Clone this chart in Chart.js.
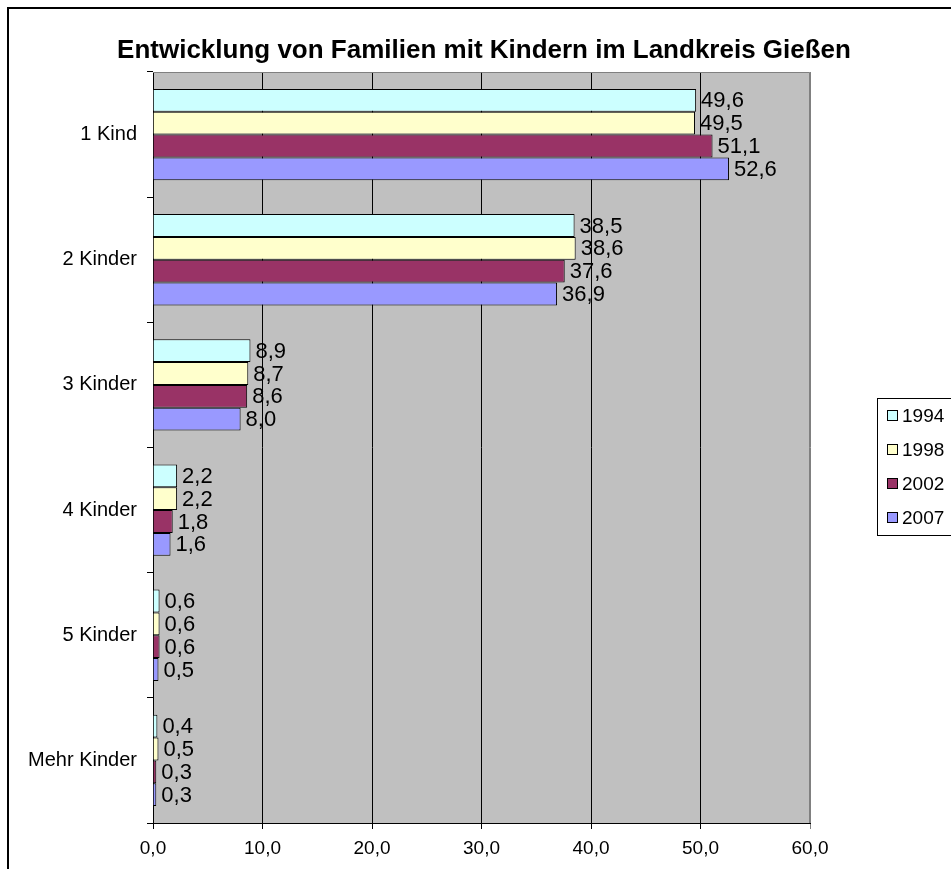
<!DOCTYPE html>
<html>
<head>
<meta charset="utf-8">
<script src="https://cdn.jsdelivr.net/npm/chart.js@4.4.0/dist/chart.umd.min.js"></script>
<style>
  html, body { margin: 0; padding: 0; background: #fff; }
</style>
</head>
<body>
<canvas id="familyChart" width="951" height="869"></canvas>
<script>
// Entwicklung von Familien mit Kindern, Anteile in %
const chartTitle = 'Entwicklung von Familien mit Kindern im Landkreis Gießen';
const categories = ['1 Kind', '2 Kinder', '3 Kinder', '4 Kinder', '5 Kinder', 'Mehr Kinder'];
const years = ['1994', '1998', '2002', '2007'];
const values1994 = [49.6, 38.5, 8.9, 2.2, 0.6, 0.4];
const values1998 = [49.5, 38.6, 8.7, 2.2, 0.6, 0.5];
const values2002 = [51.1, 37.6, 8.6, 1.8, 0.6, 0.3];
const values2007 = [52.6, 36.9, 8.0, 1.6, 0.5, 0.3];
const xTicks = [0, 10, 20, 30, 40, 50, 60];

const colors = ['#CCFFFF', '#FFFFCC', '#993366', '#9999FF'];
const font = "'Liberation Sans', Arial, sans-serif";
const fmt = v => v.toFixed(1).replace('.', ',');

// white page, outer frame, grey plot area and the title (centred on the whole chart, not the plot)
const frame = {
    id: 'frame',
    beforeDraw(chart) {
        const c = chart.ctx, a = chart.chartArea;
        c.save();
        c.fillStyle = '#fff';
        c.fillRect(0, 0, chart.width, chart.height);
        c.strokeStyle = '#000';
        c.lineWidth = 2;
        c.beginPath();
        c.moveTo(8, chart.height);
        c.lineTo(8, 8);
        c.lineTo(chart.width, 8);
        c.stroke();
        c.fillStyle = '#C0C0C0';
        c.fillRect(a.left, a.top, a.right - a.left, a.bottom - a.top);
        c.fillStyle = '#000';
        c.font = 'bold 26px ' + font;
        c.textAlign = 'center';
        c.textBaseline = 'middle';
        c.fillText(chartTitle, 484, 51);
        c.restore();
    },
    afterDraw(chart) {
        const c = chart.ctx, a = chart.chartArea;
        c.save();
        c.strokeStyle = '#808080';
        c.lineWidth = 1;
        c.beginPath();
        c.moveTo(a.left, a.top + 0.5);
        c.lineTo(a.right - 0.5, a.top + 0.5);
        c.lineTo(a.right - 0.5, a.bottom);
        c.stroke();
        c.restore();
    }
};

// value labels right of each bar
const valueLabels = {
    id: 'valueLabels',
    afterDatasetsDraw(chart) {
        const c = chart.ctx;
        c.save();
        c.font = '22px ' + font;
        c.fillStyle = '#000';
        c.textBaseline = 'middle';
        chart.data.datasets.forEach((ds, i) => {
            chart.getDatasetMeta(i).data.forEach((bar, j) => {
                c.fillText(fmt(ds.data[j]), bar.x + 5, bar.y + 1);
            });
        });
        c.restore();
    }
};

// framed legend like the original
const boxLegend = {
    id: 'boxLegend',
    afterDraw(chart) {
        const c = chart.ctx;
        const left = 877, top = 398, rowH = 34;
        c.save();
        c.strokeStyle = '#000';
        c.lineWidth = 1;
        c.strokeRect(left + 0.5, top + 0.5, 120, rowH * years.length + 1);
        c.font = '19px ' + font;
        c.textBaseline = 'middle';
        chart.data.datasets.forEach((ds, i) => {
            const y = top + 18 + i * rowH;
            c.fillStyle = ds.backgroundColor;
            c.fillRect(left + 10.5, y - 5.5, 10, 10);
            c.strokeRect(left + 10.5, y - 5.5, 10, 10);
            c.fillStyle = '#000';
            c.fillText(ds.label, left + 25, y + 1);
        });
        c.restore();
    }
};

const ctx = document.getElementById('familyChart').getContext('2d');
const familyChart = new Chart(ctx, {
    type: 'bar',
    data: {
        labels: categories,
        datasets: [
            { label: years[0], data: values1994, backgroundColor: colors[0] },
            { label: years[1], data: values1998, backgroundColor: colors[1] },
            { label: years[2], data: values2002, backgroundColor: colors[2] },
            { label: years[3], data: values2007, backgroundColor: colors[3] }
        ].map(ds => Object.assign(ds, {
            borderColor: '#000',
            borderWidth: 1,
            categoryPercentage: 0.73,
            barPercentage: 1
        }))
    },
    options: {
        indexAxis: 'y',
        responsive: false,
        animation: false,
        layout: { padding: { left: 0, right: 141, top: 72, bottom: 0 } },
        plugins: {
            legend: { display: false },
            tooltip: { enabled: false },
            title: { display: false }
        },
        scales: {
            x: {
                min: 0,
                max: 60,
                afterBuildTicks: scale => { scale.ticks = xTicks.map(v => ({ value: v })); },
                afterFit: scale => { scale.height = 46; },
                ticks: {
                    color: '#000',
                    font: { family: font, size: 19 },
                    padding: 8,
                    maxRotation: 0,
                    callback: v => fmt(v)
                },
                grid: {
                    color: c => (c.tick && c.tick.value === 60) ? '#808080' : '#000',
                    tickLength: 6
                },
                border: { color: '#000' }
            },
            y: {
                afterFit: scale => { scale.width = 153; },
                ticks: {
                    color: '#000',
                    font: { family: font, size: 20 },
                    padding: 10
                },
                grid: { drawOnChartArea: false, color: '#000', tickLength: 6, offset: true },
                border: { color: '#000' }
            }
        }
    },
    plugins: [frame, valueLabels, boxLegend]
});
</script>
</body>
</html>
